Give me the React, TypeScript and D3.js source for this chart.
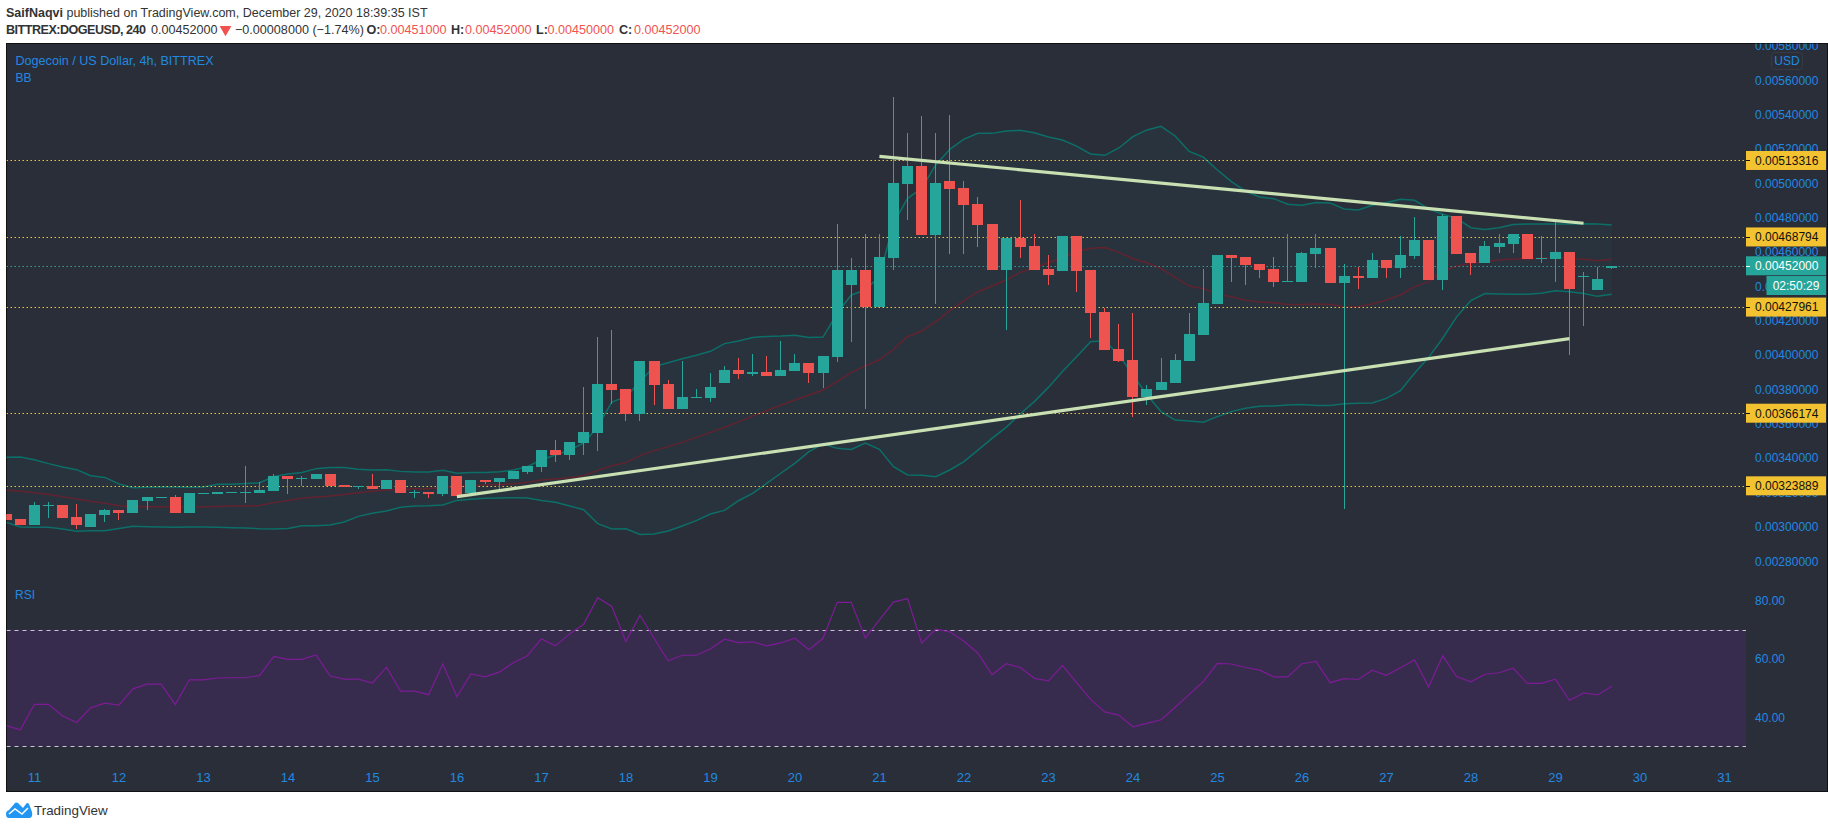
import React from 'react';
import * as d3 from 'd3';

// prices are in millionths of a dollar, one row per day (first row is the tail of day 10)
const candleOpen = [
  3075, 3046,
  3011, 3121, 3127, 3057, 2999, 3069,
  3098, 3081, 3151, 3168, 3174, 3081,
  3191, 3191, 3197, 3197, 3197, 3209,
  3296, 3279, 3279, 3308, 3244, 3232,
  3238, 3220, 3273, 3197, 3203, 3191,
  3296, 3197, 3273, 3261, 3279, 3319,
  3349, 3447, 3418, 3488, 3546, 3832,
  3803, 3657, 3966, 3832, 3686, 3750,
  3750, 3838, 3913, 3890, 3902, 3878,
  3907, 3954, 3896, 3989, 4408, 4495,
  4280, 4565, 4996, 5101, 4699, 5014,
  4973, 4880, 4763, 4495, 4682, 4635,
  4501, 4490, 4693, 4495, 4251, 4036,
  3971, 3756, 3797, 3837, 3966, 4117,
  4298, 4583, 4571, 4530, 4501, 4426,
  4426, 4589, 4624, 4420, 4461, 4449,
  4554, 4507, 4577, 4670, 4437, 4810,
  4594, 4536, 4629, 4647, 4705, 4560,
  4560, 4600, 4455, 4379, 4510,
];
const candleHigh = [
  3075, 3046,
  3145, 3145, 3127, 3133, 3075, 3104,
  3098, 3156, 3174, 3174, 3186, 3197,
  3197, 3203, 3203, 3354, 3261, 3308,
  3296, 3296, 3308, 3308, 3244, 3238,
  3308, 3273, 3273, 3215, 3203, 3296,
  3296, 3273, 3273, 3284, 3325, 3354,
  3447, 3506, 3494, 3814, 4105, 4146,
  3803, 3966, 3966, 3855, 3966, 3803,
  3896, 3937, 3983, 4006, 3995, 4082,
  4006, 3954, 3995, 4763, 4565, 4705,
  4705, 5503, 5293, 5392, 5293, 5398,
  5014, 4921, 4763, 4682, 4903, 4705,
  4583, 4693, 4693, 4495, 4274, 4181,
  4245, 3826, 3983, 4006, 4245, 4501,
  4583, 4583, 4571, 4530, 4571, 4705,
  4600, 4705, 4624, 4530, 4513, 4594,
  4554, 4693, 4804, 4670, 4822, 4810,
  4594, 4664, 4705, 4705, 4705, 4693,
  4792, 4600, 4484, 4513, 4520,
];
const candleLow = [
  3040, 3011,
  3011, 3052, 3052, 2988, 2999, 3028,
  3040, 3081, 3098, 3168, 3081, 3081,
  3191, 3191, 3197, 3139, 3197, 3209,
  3191, 3238, 3279, 3238, 3232, 3220,
  3220, 3220, 3197, 3168, 3168, 3180,
  3180, 3197, 3250, 3220, 3279, 3308,
  3319, 3378, 3389, 3418, 3442, 3715,
  3616, 3616, 3709, 3686, 3686, 3750,
  3727, 3838, 3861, 3878, 3878, 3878,
  3907, 3838, 3808, 3960, 4076, 3686,
  4280, 4495, 4787, 4699, 4298, 4589,
  4589, 4629, 4495, 4146, 4565, 4495,
  4408, 4490, 4367, 4100, 4030, 3960,
  3640, 3710, 3797, 3837, 3966, 4117,
  4298, 4426, 4408, 4449, 4397, 4426,
  4426, 4507, 4420, 3102, 4385, 4449,
  4449, 4449, 4560, 4437, 4379, 4589,
  4466, 4536, 4594, 4594, 4560, 4536,
  4426, 4001, 4169, 4379, 4500,
];
const candleClose = [
  3040, 3011,
  3127, 3127, 3052, 3011, 3075, 3098,
  3081, 3156, 3174, 3174, 3081, 3197,
  3197, 3203, 3203, 3203, 3215, 3296,
  3279, 3284, 3308, 3238, 3232, 3238,
  3220, 3273, 3197, 3203, 3191, 3296,
  3180, 3273, 3261, 3284, 3325, 3354,
  3447, 3418, 3494, 3552, 3832, 3797,
  3657, 3966, 3826, 3686, 3756, 3756,
  3814, 3913, 3890, 3902, 3878, 3913,
  3954, 3896, 3995, 4495, 4495, 4280,
  4571, 5002, 5101, 4699, 5002, 4967,
  4874, 4758, 4495, 4682, 4629, 4495,
  4466, 4693, 4490, 4245, 4030, 3966,
  3756, 3803, 3843, 3971, 4123, 4303,
  4583, 4565, 4525, 4496, 4426, 4431,
  4594, 4624, 4420, 4461, 4449, 4554,
  4507, 4583, 4670, 4437, 4810, 4589,
  4536, 4635, 4653, 4705, 4560, 4565,
  4600, 4385, 4461, 4443, 4520,
];
const bbUpper = [
  3405, 3407,
  3391, 3368, 3349, 3333, 3298, 3288,
  3250, 3228, 3230, 3232, 3232, 3230,
  3232, 3248, 3248, 3252, 3257, 3294,
  3308, 3316, 3339, 3345, 3345, 3335,
  3331, 3333, 3323, 3319, 3319, 3329,
  3312, 3316, 3317, 3321, 3331, 3350,
  3391, 3418, 3447, 3488, 3583, 3727,
  3758, 3845, 3933, 3956, 3979, 3999,
  4022, 4067, 4082, 4103, 4109, 4111,
  4115, 4102, 4105, 4243, 4350, 4379,
  4457, 4767, 4913, 4971, 5107, 5198,
  5258, 5291, 5291, 5305, 5309, 5295,
  5270, 5252, 5217, 5171, 5163, 5206,
  5272, 5311, 5332, 5276, 5186, 5153,
  5078, 5010, 4955, 4921, 4911, 4878,
  4872, 4889, 4886, 4851, 4845, 4872,
  4889, 4907, 4901, 4851, 4820, 4796,
  4742, 4732, 4742, 4761, 4763, 4763,
  4763, 4763, 4765, 4763, 4757,
];
const bbLower = [
  3026, 2999,
  2997, 2997, 2988, 2974, 2978, 2978,
  2991, 3003, 3001, 2999, 2997, 2999,
  2999, 2997, 2995, 2993, 2989, 2988,
  2991, 3007, 3007, 3011, 3028, 3061,
  3079, 3092, 3114, 3121, 3123, 3127,
  3154, 3160, 3166, 3168, 3170, 3168,
  3154, 3143, 3121, 3100, 3019, 2988,
  2989, 2956, 2958, 2976, 3005, 3036,
  3075, 3096, 3152, 3195, 3253, 3312,
  3370, 3438, 3484, 3457, 3451, 3488,
  3451, 3350, 3302, 3300, 3292, 3331,
  3380, 3447, 3515, 3579, 3657, 3729,
  3812, 3904, 3991, 4078, 4084, 4001,
  3884, 3768, 3671, 3622, 3616, 3609,
  3642, 3671, 3690, 3702, 3704, 3710,
  3713, 3706, 3706, 3717, 3719, 3721,
  3748, 3793, 3894, 3987, 4098, 4224,
  4317, 4358, 4356, 4354, 4354, 4360,
  4375, 4369, 4358, 4342, 4354,
];
const bbMiddle = [
  3215, 3207,
  3199, 3189, 3176, 3162, 3149, 3137,
  3123, 3117, 3117, 3117, 3117, 3114,
  3117, 3119, 3121, 3121, 3125, 3141,
  3154, 3166, 3174, 3180, 3189, 3199,
  3207, 3215, 3218, 3222, 3224, 3228,
  3234, 3240, 3244, 3246, 3250, 3259,
  3273, 3279, 3286, 3298, 3329, 3356,
  3374, 3415, 3444, 3467, 3492, 3521,
  3550, 3579, 3612, 3645, 3676, 3708,
  3739, 3768, 3797, 3845, 3898, 3937,
  3973, 4034, 4107, 4140, 4195, 4259,
  4317, 4369, 4402, 4437, 4482, 4509,
  4538, 4567, 4602, 4622, 4626, 4598,
  4561, 4538, 4503, 4453, 4402, 4387,
  4356, 4340, 4319, 4309, 4305, 4294,
  4294, 4298, 4294, 4282, 4282, 4298,
  4321, 4350, 4399, 4428, 4488, 4519,
  4534, 4546, 4554, 4560, 4560, 4564,
  4568, 4566, 4558, 4550, 4558,
];
const rsiValues = [
  37.1, 35.7,
  44.4, 44.4, 40.4, 38.2, 43.2, 44.8,
  44.1, 49.7, 51.3, 51.3, 44.3, 52.8,
  52.8, 53.4, 53.5, 53.5, 54.3, 60.8,
  59.8, 59.8, 61.3, 54.1, 53.0, 53.0,
  51.7, 57.1, 48.9, 48.9, 47.7, 58.2,
  47.0, 54.8, 53.8, 55.4, 58.6, 61.0,
  66.8, 64.4, 68.5, 71.8, 80.9, 77.9,
  65.9, 74.9, 67.0, 59.3, 61.2, 61.2,
  63.3, 66.7, 65.5, 65.8, 64.4, 65.4,
  67.0, 63.1, 67.0, 79.3, 79.3, 67.1,
  73.3, 79.4, 80.6, 65.3, 70.1, 69.2,
  66.0, 61.9, 54.5, 58.3, 57.0, 53.3,
  52.4, 57.7, 51.8, 46.1, 41.8, 40.7,
  36.7, 37.9, 39.1, 43.4, 47.8, 52.2,
  58.4, 58.2, 57.0, 56.1, 53.8, 53.8,
  58.3, 59.1, 51.8, 53.2, 52.9, 56.1,
  54.3, 56.9, 59.6, 50.4, 61.0, 53.8,
  52.1, 54.7, 55.2, 56.8, 51.6, 51.6,
  53.0, 45.7, 48.3, 47.6, 50.6,
];

const priceTicks = [5800, 5600, 5400, 5200, 5000, 4800, 4600, 4400, 4200, 4000, 3800, 3600, 3400, 3200, 3000, 2800];
const rsiTicks = [80, 60, 40];
const rsiBounds = [70, 30];
const dayLabels = [11, 12, 13, 14, 15, 16, 17, 18, 19, 20, 21, 22, 23, 24, 25, 26, 27, 28, 29, 30, 31];
const levelPrices = [5133.16, 4687.94, 4279.61, 3661.74, 3238.89];
const lastPrice = 4520;
const countdown = '02:50:29';
// [bar, price] ends of the two hand-drawn trend lines
const trendLines = [
  [[60, 5157.5], [110, 4767.5]],
  [[30, 3176], [109, 4096]],
];

const GREEN = '#26a69a';
const RED = '#ef5350';
const BLUE = '#2189e0';
const YELLOW = '#f2c230';
const FONT = '"Liberation Sans", Arial, sans-serif';

const BARS_PER_DAY = 6;
const FIRST_BAR = -2;

const frame = { left: 6.5, right: 1827.5, top: 43.5, bottom: 791.5 };
const axisX = 1746;

const x = d3.scaleLinear().domain([0, 120]).range([34.4, 1724.4]);
const y = d3.scaleLinear().domain([5800, 2800]).range([45.95, 561.2]);
const yRsi = d3.scaleLinear().domain([80, 30]).range([600.3, 746.4]);

const formatPrice = (v: number) => (v / 1e6).toFixed(8);
const px = (v: number) => Math.round(v) + 0.5;
const barX = (i: number) => x(i + FIRST_BAR);

const bandLine = d3.line<number>().x((_, i) => barX(i)).y(d => y(d));
const bandArea = d3.area<number>()
  .x((_, i) => barX(i))
  .y0((_, i) => y(bbLower[i]))
  .y1(d => y(d));
const rsiLine = d3.line<number>().x((_, i) => barX(i)).y(d => yRsi(d));
const trendLine = d3.line<number[]>().x(d => x(d[0])).y(d => y(d[1]));

const App = () => {
  return (
    <svg
      width={1828}
      height={828}
      style={{ position: 'absolute', left: 0, top: 0, background: '#fff' }}
      fontFamily={FONT}
    >
      <defs>
        <clipPath id="pane">
          <rect x={frame.left} y={frame.top} width={frame.right - frame.left} height={frame.bottom - frame.top} />
        </clipPath>
      </defs>

      {/* header */}
      <text x={6} y={17} fontSize={12.5} fill="#333">
        <tspan fontWeight="bold">SaifNaqvi</tspan> published on TradingView.com, December 29, 2020 18:39:35 IST
      </text>
      <g fontSize={12.6} fill="#333">
        <text x={6} y={34} fontWeight="bold" textLength={140}>BITTREX:DOGEUSD, 240</text>
        <text x={151} y={34}>0.00452000</text>
        <path d={d3.symbol(d3.symbolTriangle, 60)() ?? ''} transform="translate(225.5,29.5) rotate(180)" fill={RED} />
        <text x={235} y={34}>−0.00008000 (−1.74%)</text>
        <text x={366.5} y={34} fontWeight="bold">O:</text>
        <text x={380} y={34} fill={RED}>0.00451000</text>
        <text x={451} y={34} fontWeight="bold">H:</text>
        <text x={465} y={34} fill={RED}>0.00452000</text>
        <text x={536} y={34} fontWeight="bold">L:</text>
        <text x={547.5} y={34} fill={RED}>0.00450000</text>
        <text x={619} y={34} fontWeight="bold">C:</text>
        <text x={634} y={34} fill={RED}>0.00452000</text>
      </g>

      <rect
        x={frame.left}
        y={frame.top}
        width={frame.right - frame.left}
        height={frame.bottom - frame.top}
        fill="#2a2e39"
        stroke="#111"
      />

      <g clipPath="url(#pane)">
        {/* Bollinger bands */}
        <path d={bandArea(bbUpper) ?? ''} fill="rgba(38,166,154,0.05)" />
        <path d={bandLine(bbUpper) ?? ''} fill="none" stroke="#0b6f68" strokeWidth={1.5} />
        <path d={bandLine(bbLower) ?? ''} fill="none" stroke="#0b6f68" strokeWidth={1.5} />
        <path d={bandLine(bbMiddle) ?? ''} fill="none" stroke="#62232f" strokeWidth={1.5} />

        {/* support / resistance levels */}
        {levelPrices.map(p => (
          <line key={p} x1={frame.left} x2={axisX} y1={px(y(p))} y2={px(y(p))} stroke="#f5c02c" strokeDasharray="1.5 2.5" />
        ))}
        <line x1={frame.left} x2={axisX} y1={px(y(lastPrice))} y2={px(y(lastPrice))} stroke={GREEN} strokeDasharray="1.5 2.5" />

        {/* candles */}
        {candleOpen.map((open, i) => {
          const close = candleClose[i];
          const color = close >= open ? GREEN : RED;
          const cx = barX(i);
          const top = Math.round(y(Math.max(open, close)));
          const bottom = Math.round(y(Math.min(open, close)));
          return (
            <g key={i} shapeRendering="crispEdges">
              <line x1={px(cx - 0.5)} x2={px(cx - 0.5)} y1={y(candleHigh[i])} y2={y(candleLow[i])} stroke={color} />
              <rect x={Math.round(cx - 5.5)} y={top} width={11} height={Math.max(bottom - top, 1)} fill={color} />
            </g>
          );
        })}

        {trendLines.map((points, i) => (
          <path key={i} d={trendLine(points) ?? ''} fill="none" stroke="#c8e0b2" strokeWidth={3.2} />
        ))}

        {/* RSI pane */}
        <rect
          x={frame.left}
          y={yRsi(rsiBounds[0])}
          width={axisX - frame.left}
          height={yRsi(rsiBounds[1]) - yRsi(rsiBounds[0])}
          fill="rgba(142,33,204,0.15)"
        />
        {rsiBounds.map(v => (
          <line key={v} x1={frame.left} x2={axisX} y1={px(yRsi(v))} y2={px(yRsi(v))} stroke="#c9c3d2" strokeDasharray="4 4" />
        ))}
        <path d={rsiLine(rsiValues) ?? ''} fill="none" stroke="#7d1b96" strokeWidth={1.2} />

        {/* price axis */}
        {priceTicks.map(p => (
          <text key={p} x={1755} y={y(p)} dy="0.36em" fontSize={12} fill={BLUE}>{formatPrice(p)}</text>
        ))}
      </g>

      <rect x={1771.5} y={52.5} width={31} height={17} rx={3} fill="#2a2e39" stroke="#363a45" />
      <text x={1787} y={61} dy="0.36em" fontSize={12} fill={BLUE} textAnchor="middle">USD</text>

      {levelPrices.map(p => (
        <g key={p}>
          <rect x={axisX} y={y(p) - 9.5} width={80} height={19} fill={YELLOW} />
          <line x1={axisX} x2={axisX + 4} y1={px(y(p))} y2={px(y(p))} stroke="#111" />
          <text x={1755} y={y(p)} dy="0.36em" fontSize={12} fill="#111">{formatPrice(p)}</text>
        </g>
      ))}

      <rect x={axisX} y={y(lastPrice) - 9.5} width={80} height={19} fill={GREEN} />
      <line x1={axisX} x2={axisX + 4} y1={px(y(lastPrice))} y2={px(y(lastPrice))} stroke="#fff" />
      <text x={1755} y={y(lastPrice)} dy="0.36em" fontSize={12} fill="#fff">{formatPrice(lastPrice)}</text>
      <rect x={1766.5} y={276} width={59.5} height={19} fill={GREEN} />
      <text x={1796} y={285.5} dy="0.36em" fontSize={12} fill="#fff" textAnchor="middle">{countdown}</text>

      {/* RSI axis */}
      {rsiTicks.map(v => (
        <text key={v} x={1755} y={yRsi(v)} dy="0.36em" fontSize={12} fill={BLUE}>{v.toFixed(2)}</text>
      ))}

      {/* time axis */}
      {dayLabels.map((d, i) => (
        <text key={d} x={x(i * BARS_PER_DAY)} y={777.7} dy="0.36em" fontSize={13} fill={BLUE} textAnchor="middle">{d}</text>
      ))}

      <text x={15.5} y={60.7} dy="0.36em" fontSize={12.6} fill={BLUE}>Dogecoin / US Dollar, 4h, BITTREX</text>
      <text x={15.5} y={77.7} dy="0.36em" fontSize={12} fill={BLUE}>BB</text>
      <text x={15} y={595} dy="0.36em" fontSize={12} fill={BLUE}>RSI</text>

      {/* logo */}
      <path
        d="M9 818 Q6 818 6 814 Q6 811 9 810 L15 803 Q16 802 18 803 L23 808 L26 804 Q27 802 29 804 L32 812 Q33 818 29 818 Z"
        fill="#2196f3"
      />
      <path d="M9 814 L15 809 L22 814 L28 808" fill="none" stroke="#fff" strokeWidth={1.5} />
      <text x={34} y={810} dy="0.36em" fontSize={13.4} fill="#333">TradingView</text>
    </svg>
  );
};

export default App;
